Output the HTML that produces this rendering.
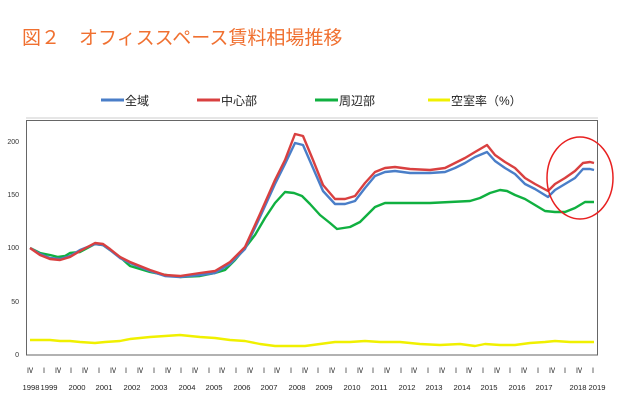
<!DOCTYPE html>
<html><head><meta charset="utf-8"><style>
body{margin:0;background:#fff;}
svg{display:block;font-family:"Liberation Sans","Noto Sans CJK JP",sans-serif;}
</style></head><body>
<svg width="619" height="403" viewBox="0 0 619 403">
<text x="22" y="44" font-size="19" fill="#f07030" font-family="'Liberation Sans','Noto Sans CJK JP',sans-serif">図２　オフィススペース賃料相場推移</text>
<g font-size="12" fill="#222" font-family="'Liberation Sans','Noto Sans CJK JP',sans-serif">
<line x1="101" y1="100" x2="124" y2="100" stroke="#4a7ec8" stroke-width="3"/><text x="125" y="105">全域</text>
<line x1="197" y1="100" x2="220" y2="100" stroke="#d94040" stroke-width="3"/><text x="221" y="105">中心部</text>
<line x1="315" y1="100" x2="338" y2="100" stroke="#10b040" stroke-width="3"/><text x="339" y="105">周辺部</text>
<line x1="428" y1="100" x2="450" y2="100" stroke="#f0f000" stroke-width="3"/><text x="451" y="105">空室率（%）</text>
</g>
<line x1="26" y1="118" x2="598" y2="118" stroke="#ccc" stroke-width="1"/>
<rect x="26.5" y="120.5" width="571" height="234.5" fill="none" stroke="#666" stroke-width="1"/>
<g font-size="7" fill="#333" text-anchor="end">
<text x="19" y="357">0</text><text x="19" y="304">50</text><text x="19" y="250">100</text><text x="19" y="197">150</text><text x="19" y="144">200</text>
</g>
<g fill="none" stroke-width="2.4" stroke-linejoin="round">
<polyline stroke="#f0f000" points="30,340 50,340 60,341 70,341 80,342 95,343 105,342 120,341 130,339 150,337 165,336 180,335 200,337 215,338 230,340 245,341 260,344 275,346 290,346 305,346 320,344 335,342 350,342 365,341 380,342 400,342 420,344 440,345 460,344 475,346 485,344 500,345 515,345 530,343 545,342 555,341 570,342 594,342"/>
<polyline stroke="#10b040" points="30,248 40,253 50,255 58,257 65,256 70,253 80,252 95,244 103,245 110,250 120,257 130,266 150,272 160,274 180,277 200,276 215,273 225,270 235,260 245,248 255,235 265,218 275,203 285,192 294,193 302,196 310,204 320,215 330,223 337,229 350,227 360,222 368,214 375,207 385,203 400,203 430,203 450,202 470,201 480,198 490,193 500,190 507,191 515,195 525,199 535,205 545,211 555,212 565,212 575,208 585,202 594,202"/>
<polyline stroke="#4a7ec8" points="30,248 40,254 50,258 60,259 70,256 80,250 95,244 103,245 110,250 120,258 130,263 150,271 165,276 180,277 200,275 215,273 230,264 245,249 260,217 275,184 285,164 295,143 303,145 313,168 323,191 335,204 345,204 355,201 365,188 375,176 385,172 395,171 410,173 430,173 445,172 455,168 465,163 475,157 487,152 495,161 505,168 515,174 525,184 535,189 548,197 555,190 565,184 575,178 583,169 590,169 594,170"/>
<polyline stroke="#d94040" points="30,248 40,255 50,259 60,260 70,257 80,251 95,243 103,244 110,249 120,257 130,262 150,270 165,275 180,276 200,273 215,271 230,262 245,247 260,214 275,180 285,160 295,134 303,136 313,160 323,185 335,199 345,199 355,196 365,183 375,172 385,168 395,167 410,169 430,170 445,168 455,163 465,158 475,152 487,145 495,155 505,162 515,168 525,178 535,184 548,191 555,184 565,178 575,171 583,163 590,162 594,163"/>
</g>
<ellipse cx="580" cy="178" rx="33" ry="41" fill="none" stroke="#e82020" stroke-width="1.5"/>
<g font-size="7" fill="#222" text-anchor="middle" id="q"></g>
<g font-size="7" fill="#222" text-anchor="middle">
<text x="31" y="390" textLength="17" lengthAdjust="spacingAndGlyphs">1998</text>
<text x="49" y="390" textLength="17" lengthAdjust="spacingAndGlyphs">1999</text>
<text x="77" y="390" textLength="17" lengthAdjust="spacingAndGlyphs">2000</text>
<text x="104" y="390" textLength="17" lengthAdjust="spacingAndGlyphs">2001</text>
<text x="132" y="390" textLength="17" lengthAdjust="spacingAndGlyphs">2002</text>
<text x="159" y="390" textLength="17" lengthAdjust="spacingAndGlyphs">2003</text>
<text x="187" y="390" textLength="17" lengthAdjust="spacingAndGlyphs">2004</text>
<text x="214" y="390" textLength="17" lengthAdjust="spacingAndGlyphs">2005</text>
<text x="242" y="390" textLength="17" lengthAdjust="spacingAndGlyphs">2006</text>
<text x="269" y="390" textLength="17" lengthAdjust="spacingAndGlyphs">2007</text>
<text x="297" y="390" textLength="17" lengthAdjust="spacingAndGlyphs">2008</text>
<text x="324" y="390" textLength="17" lengthAdjust="spacingAndGlyphs">2009</text>
<text x="352" y="390" textLength="17" lengthAdjust="spacingAndGlyphs">2010</text>
<text x="379" y="390" textLength="17" lengthAdjust="spacingAndGlyphs">2011</text>
<text x="407" y="390" textLength="17" lengthAdjust="spacingAndGlyphs">2012</text>
<text x="434" y="390" textLength="17" lengthAdjust="spacingAndGlyphs">2013</text>
<text x="462" y="390" textLength="17" lengthAdjust="spacingAndGlyphs">2014</text>
<text x="489" y="390" textLength="17" lengthAdjust="spacingAndGlyphs">2015</text>
<text x="517" y="390" textLength="17" lengthAdjust="spacingAndGlyphs">2016</text>
<text x="544" y="390" textLength="17" lengthAdjust="spacingAndGlyphs">2017</text>
<text x="578" y="390" textLength="17" lengthAdjust="spacingAndGlyphs">2018</text>
<text x="597" y="390" textLength="17" lengthAdjust="spacingAndGlyphs">2019</text>
</g>
<g font-size="7" fill="#222" text-anchor="middle">
<text x="30" y="373">Ⅳ</text><text x="44" y="373">Ⅰ</text><text x="58" y="373">Ⅳ</text><text x="71" y="373">Ⅰ</text><text x="85" y="373">Ⅳ</text><text x="99" y="373">Ⅰ</text><text x="113" y="373">Ⅳ</text><text x="126" y="373">Ⅰ</text><text x="140" y="373">Ⅳ</text><text x="154" y="373">Ⅰ</text><text x="168" y="373">Ⅳ</text><text x="181" y="373">Ⅰ</text><text x="195" y="373">Ⅳ</text><text x="209" y="373">Ⅰ</text><text x="222" y="373">Ⅳ</text><text x="236" y="373">Ⅰ</text><text x="250" y="373">Ⅳ</text><text x="264" y="373">Ⅰ</text><text x="277" y="373">Ⅳ</text><text x="291" y="373">Ⅰ</text><text x="305" y="373">Ⅳ</text><text x="318" y="373">Ⅰ</text><text x="332" y="373">Ⅳ</text><text x="346" y="373">Ⅰ</text><text x="360" y="373">Ⅳ</text><text x="373" y="373">Ⅰ</text><text x="387" y="373">Ⅳ</text><text x="401" y="373">Ⅰ</text><text x="414" y="373">Ⅳ</text><text x="428" y="373">Ⅰ</text><text x="442" y="373">Ⅳ</text><text x="456" y="373">Ⅰ</text><text x="469" y="373">Ⅳ</text><text x="483" y="373">Ⅰ</text><text x="497" y="373">Ⅳ</text><text x="510" y="373">Ⅰ</text><text x="524" y="373">Ⅳ</text><text x="538" y="373">Ⅰ</text><text x="552" y="373">Ⅳ</text><text x="565" y="373">Ⅰ</text><text x="579" y="373">Ⅳ</text><text x="593" y="373">Ⅰ</text>
</g>
</svg>
</body></html>
